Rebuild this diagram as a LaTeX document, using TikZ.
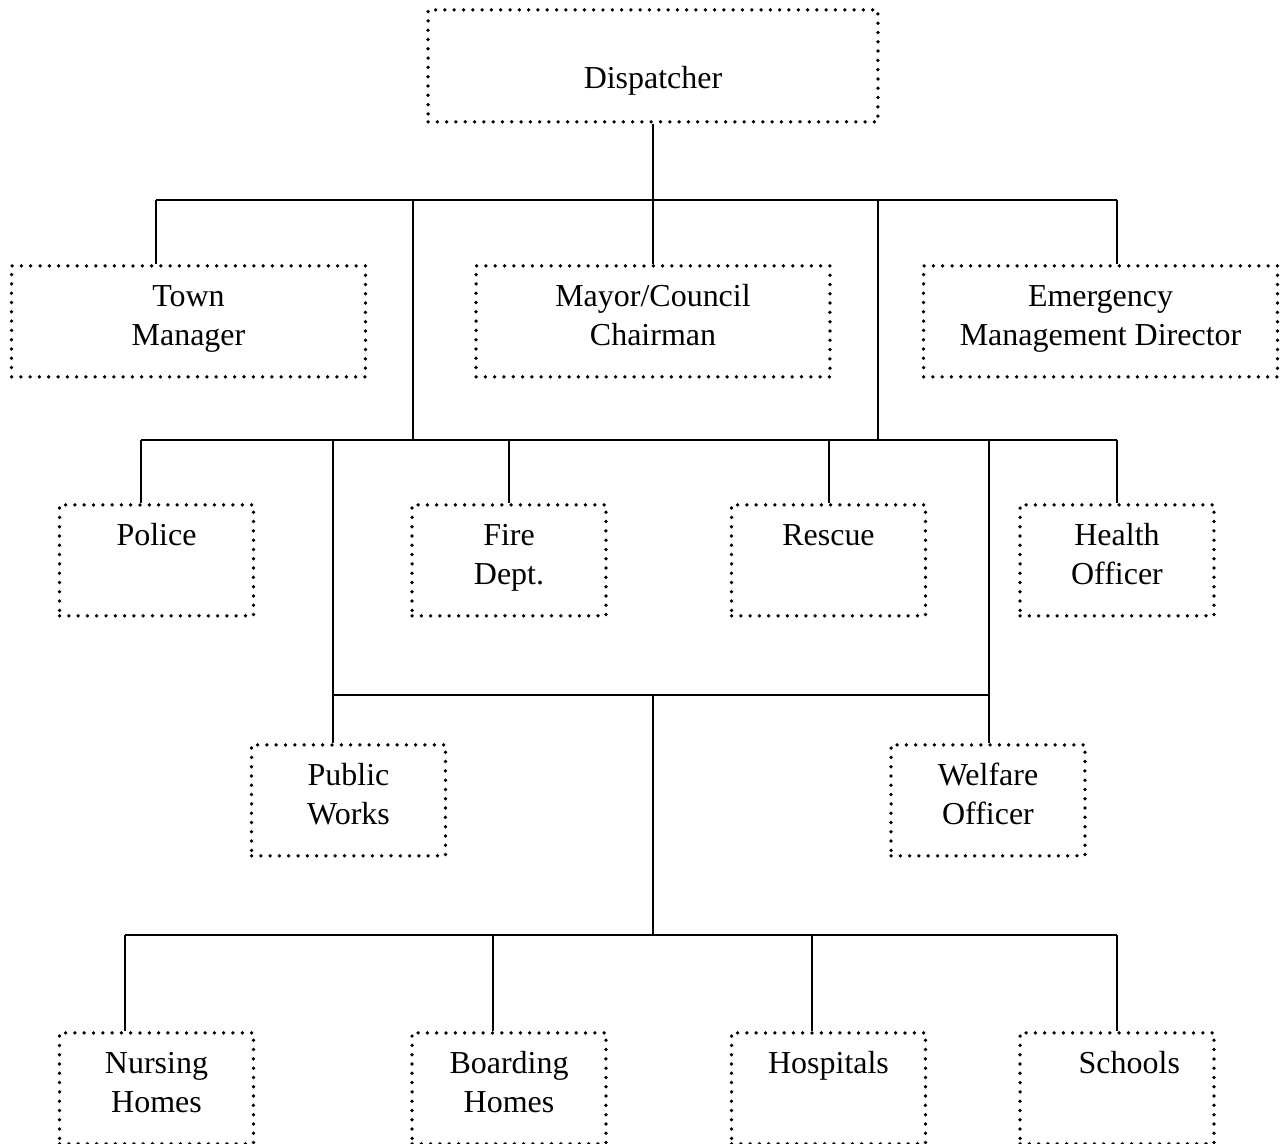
\documentclass[tikz,border=0pt]{standalone}
\usepackage{fontspec}
\setmainfont{Liberation Serif}
\newcommand{\unitname}[1]{\begin{tabular}[t]{@{}c@{}}#1\end{tabular}}
\begin{document}
\begin{tikzpicture}[x=0.02cm, y=-0.02cm, line width=0.04cm,
  unit/.style={draw, line width=0.075cm, line cap=round, dash pattern=on 0pt off 0.186cm,
    inner sep=0pt, anchor=north, text height=0.82cm, text depth=1.40cm,
    font=\fontsize{18.2}{21.8}\selectfont},
  wide/.style={unit, minimum width=7.08cm},
  narrow/.style={unit, minimum width=3.88cm}]
\useasboundingbox (0,0) rectangle (1281,1143);
% boxes
\node[unit, minimum width=9cm, text height=1.58cm, text depth=0.66cm] (disp) at (653,8) {\unitname{Dispatcher}};
\node[wide] (town) at (188.5,264) {\unitname{Town\\Manager}};
\node[wide] (mayor) at (653,264) {\unitname{Mayor/Council\\Chairman}};
\node[wide] (emd) at (1100.5,264) {\unitname{Emergency\\Management Director}};
\node[narrow] (police) at (156.5,503) {\unitname{Police}};
\node[narrow] (fire) at (509,503) {\unitname{Fire\\Dept.}};
\node[narrow] (rescue) at (828.5,503) {\unitname{Rescue}};
\node[narrow] (health) at (1117,503) {\unitname{Health\\Officer}};
\node[narrow] (works) at (348.5,743) {\unitname{Public\\Works}};
\node[narrow] (welfare) at (988,743) {\unitname{Welfare\\Officer}};
\node[narrow] (nursing) at (156.5,1031) {\unitname{Nursing\\Homes}};
\node[narrow] (boarding) at (509,1031) {\unitname{Boarding\\Homes}};
\node[narrow] (hosp) at (828.5,1031) {\unitname{Hospitals}};
\node[narrow] (schools) at (1117,1031) {\unitname{\hspace{14pt}Schools}};
% junctions
\coordinate (r1w) at (156,200);
\coordinate (r1e) at (1117,200);
\coordinate (sw) at (413,200);
\coordinate (se) at (878,200);
\coordinate (r2w) at (141,440);
\coordinate (r2e) at (1117,440);
\coordinate (r3w) at (333,695);
\coordinate (r3e) at (989,695);
\coordinate (r4w) at (125,935);
\coordinate (r4e) at (1117,935);
\coordinate (d2) at (493,935);
\coordinate (d3) at (812,935);
% connectors
\draw (disp.south) -- (disp.south |- r1w);
\draw (r1w) -- (r1e);
\draw (r1w) -- (r1w |- town.north);
\draw (mayor.north) -- (mayor.north |- r1w);
\draw (r1e) -- (r1e |- emd.north);
\draw (sw) -- (sw |- r2w);
\draw (se) -- (se |- r2w);
\draw (r2w) -- (r2e);
\draw (r2w) -- (r2w |- police.north);
\draw (fire.north) -- (fire.north |- r2w);
\draw (rescue.north) -- (rescue.north |- r2w);
\draw (r2e) -- (health.north);
\draw (r3w |- r2w) -- (r3w |- works.north);
\draw (r3e |- r2w) -- (r3e |- welfare.north);
\draw (r3w) -- (r3e);
\draw (mayor.north |- r3w) -- (mayor.north |- r4w);
\draw (r4w) -- (r4e);
\draw (r4w) -- (r4w |- nursing.north);
\draw (d2) -- (d2 |- boarding.north);
\draw (d3) -- (d3 |- hosp.north);
\draw (r4e) -- (schools.north);
\end{tikzpicture}
\end{document}
